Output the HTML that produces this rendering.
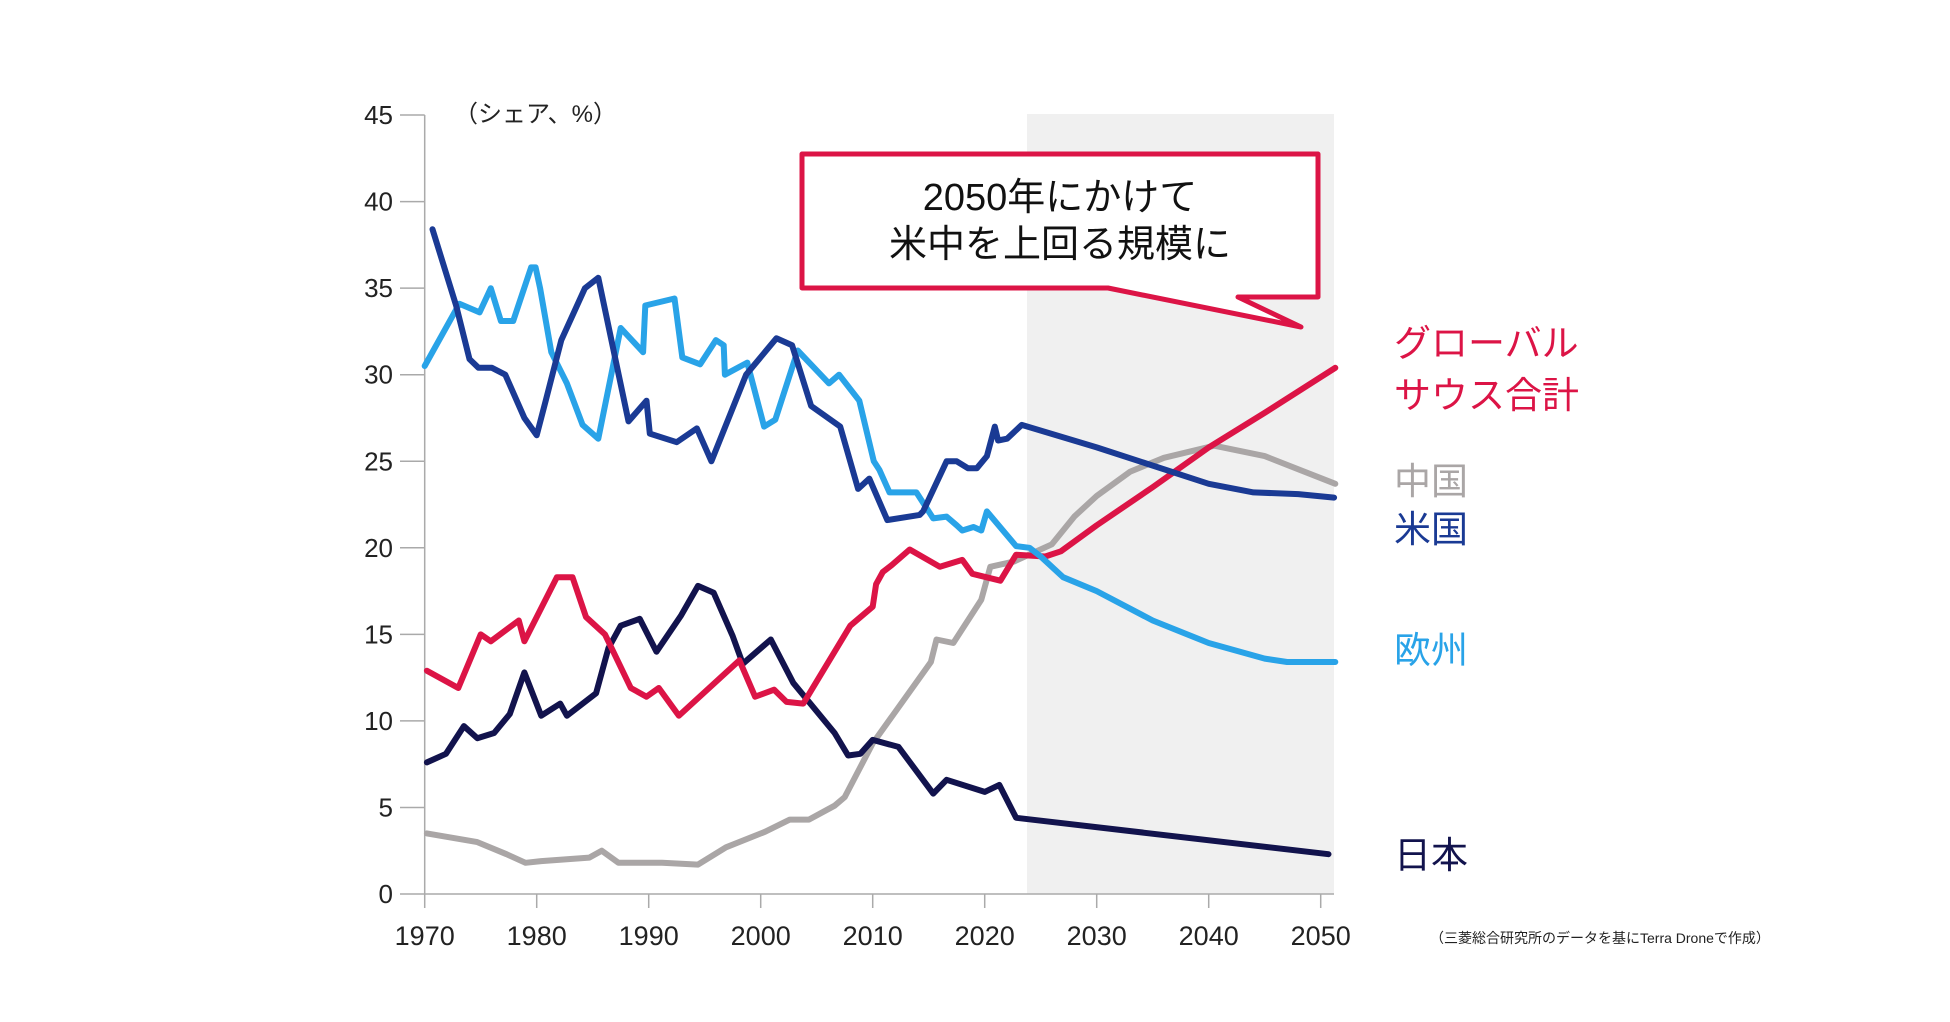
<!DOCTYPE html>
<html><head><meta charset="utf-8"><style>
html,body{margin:0;padding:0;background:#fff;}
svg{display:block;font-family:"Liberation Sans","Noto Sans CJK JP",sans-serif;}
</style></head><body>
<svg id="chart" width="1950" height="1022" viewBox="0 0 1950 1022">
<rect x="1027" y="114" width="307" height="780" fill="#f0f0f0"/>
<g id="axes"></g>
<g id="series"></g>
<text x="454" y="122" font-size="24" fill="#222">（シェア、%）</text>
<g>
<path d="M802,154 L1318,154 L1318,297 L1238,297 L1301,327 L1108,288 L802,288 Z" fill="#fff" stroke="#dc1446" stroke-width="5" stroke-linejoin="round"/>
<text x="1060" y="210" font-size="38" text-anchor="middle" fill="#111">2050年にかけて</text>
<text x="1060" y="257" font-size="38" text-anchor="middle" fill="#111">米中を上回る規模に</text>
</g>
<g font-size="37">
<text x="1394" y="356" fill="#dc1446">グローバル</text>
<text x="1394" y="408" fill="#dc1446">サウス合計</text>
<text x="1394" y="494" fill="#aaa6a6">中国</text>
<text x="1394" y="542" fill="#1a3a94">米国</text>
<text x="1394" y="663" fill="#29a3e8">欧州</text>
<text x="1394" y="868" fill="#12134d">日本</text>
</g>
<text x="1430" y="943" font-size="14" fill="#222">（三菱総合研究所のデータを基にTerra Droneで作成）</text>
</svg>
<script>
const yTicks=[0,5,10,15,20,25,30,35,40,45];
const xTicks=[1970,1980,1990,2000,2010,2020,2030,2040,2050];
const usaYears=[1970.7,1972.8,1974.0,1974.8,1976,1977.2,1978.9,1980,1980.8,1982.2,1984.3,1985.5,1988.2,1989.8,1990.1,1992.5,1994.3,1995.6,1998.7,2001.4,2002.8,2004.5,2007.1,2008.7,2009.7,2011.3,2014.2,2014.5,2016.6,2017.5,2018.5,2019.3,2020.2,2020.9,2021.2,2022,2023.3,2030,2040,2044,2048,2051.2];
const usaValues=[38.4,34,30.9,30.4,30.4,30,27.5,26.5,28.5,32,35,35.6,27.3,28.5,26.6,26.1,26.9,25,30,32.1,31.7,28.2,27,23.4,24,21.6,21.9,22.1,25,25,24.6,24.6,25.3,27,26.2,26.3,27.1,25.8,23.7,23.2,23.1,22.9];
const euYears=[1970,1973.1,1974.9,1975.9,1976.8,1977.9,1979.5,1979.9,1980.3,1981.3,1982.7,1984.1,1985.5,1987.5,1989.5,1989.7,1992.3,1993.0,1994.6,1996,1996.7,1996.8,1998.8,2000.3,2001.3,2003.3,2006.1,2007,2008.8,2010.1,2010.6,2011.5,2013.9,2015.4,2016.6,2017.5,2018,2019,2019.7,2020.2,2022.8,2024,2025,2027,2030,2035,2040,2045,2047,2051.3];
const euValues=[30.5,34.1,33.6,35,33.1,33.1,36.2,36.2,35,31.3,29.5,27.1,26.3,32.7,31.3,34,34.4,31,30.6,32,31.7,30,30.7,27,27.4,31.4,29.5,30,28.5,25,24.5,23.2,23.2,21.7,21.8,21.3,21,21.2,21,22.1,20.1,20,19.5,18.3,17.5,15.8,14.5,13.6,13.4,13.4];
const gsYears=[1970.2,1973,1975,1975.9,1978.4,1978.9,1981.8,1983.2,1984.4,1986.1,1988.4,1989.8,1990.9,1992.7,1998.1,1999.5,2001.2,2002.3,2003.8,2008,2010,2010.3,2010.9,2011.7,2013.3,2016,2018,2018.9,2021.4,2022.8,2025.4,2026.8,2030,2035,2040,2045,2051.3];
const gsValues=[12.9,11.9,15,14.6,15.8,14.6,18.3,18.3,16,15,11.9,11.4,11.9,10.3,13.5,11.4,11.8,11.1,11.0,15.5,16.6,17.9,18.6,19,19.9,18.9,19.3,18.5,18.1,19.6,19.5,19.8,21.3,23.5,25.8,27.8,30.4];
const jpYears=[1970.2,1971.9,1973.5,1974.7,1976.2,1977.6,1978.9,1980.4,1982.1,1982.7,1985.3,1986.4,1987.5,1989.2,1990.7,1992.9,1994.4,1995.8,1997.5,1998.4,2000.9,2002.9,2006.6,2007.8,2008.9,2010,2012.3,2015.4,2016.6,2020,2021.3,2022.8,2050.7];
const jpValues=[7.6,8.1,9.7,9.0,9.3,10.4,12.8,10.3,11,10.3,11.6,14.2,15.5,15.9,14,16.1,17.8,17.4,14.9,13.3,14.7,12.2,9.3,8,8.1,8.9,8.5,5.8,6.6,5.9,6.3,4.4,2.3];
const cnYears=[1970.2,1974.7,1977.3,1979,1980.4,1984.7,1985.8,1987.3,1991.2,1994.4,1996.9,2000.4,2002.6,2004.3,2006.6,2007.5,2010,2015.2,2015.7,2017.2,2019.7,2020.5,2022.6,2026,2028,2030,2033,2036,2040.5,2045,2051.3];
const cnValues=[3.5,3.0,2.3,1.8,1.9,2.1,2.5,1.8,1.8,1.7,2.7,3.6,4.3,4.3,5.1,5.6,8.7,13.4,14.7,14.5,17,18.9,19.2,20.2,21.8,23,24.4,25.2,25.9,25.3,23.7];

const NS="http://www.w3.org/2000/svg";
const X0=424.7, PXYR=11.2, Y0=894, PXU=17.31;
function xs(y){return X0+(y-1970)*PXYR;}
function ys(v){return Y0-v*PXU;}
function mk(tag,attrs,parent){const e=document.createElementNS(NS,tag);for(const k in attrs)e.setAttribute(k,attrs[k]);parent.appendChild(e);return e;}
const axes=document.getElementById('axes');
const ax=mk('line',{x1:X0,y1:ys(45),x2:X0,y2:Y0,stroke:'#aaa','stroke-width':1.5},axes);


const bx=mk('line',{x1:X0,y1:Y0,x2:1334,y2:Y0,stroke:'#aaa','stroke-width':1.5},axes);


yTicks.forEach(t=>{
 const l=mk('line',{x1:400,x2:X0,y1:ys(t),y2:ys(t),stroke:'#aaa','stroke-width':1.5},axes);
 
 
 const tx=mk('text',{x:393,y:ys(t)+9,'font-size':26,'text-anchor':'end',fill:'#222'},axes);
 tx.textContent=t;
 
 
});
xTicks.forEach(t=>{
 const l=mk('line',{x1:xs(t),x2:xs(t),y1:Y0,y2:Y0+14,stroke:'#aaa','stroke-width':1.5},axes);
 
 
 const tx=mk('text',{x:xs(t),y:945,'font-size':27,'text-anchor':'middle',fill:'#222'},axes);
 tx.textContent=t;
 
 
});
const g=document.getElementById('series');
function line(yrs,vals,color,name){
 const d=yrs.map((y,i)=>(i?'L':'M')+xs(y).toFixed(1)+','+ys(vals[i]).toFixed(1)).join(' ');
 const p=mk('path',{d:d,fill:'none',stroke:color,'stroke-width':6,'stroke-linejoin':'round','stroke-linecap':'round'},g);
 
 
}
line(cnYears,cnValues,'#aaa6a6','china-line');
line(jpYears,jpValues,'#12134d','japan-line');
line(gsYears,gsValues,'#dc1446','global-south-line');
line(euYears,euValues,'#29a3e8','europe-line');
line(usaYears,usaValues,'#1a3a94','usa-line');
</script>
</body></html>
